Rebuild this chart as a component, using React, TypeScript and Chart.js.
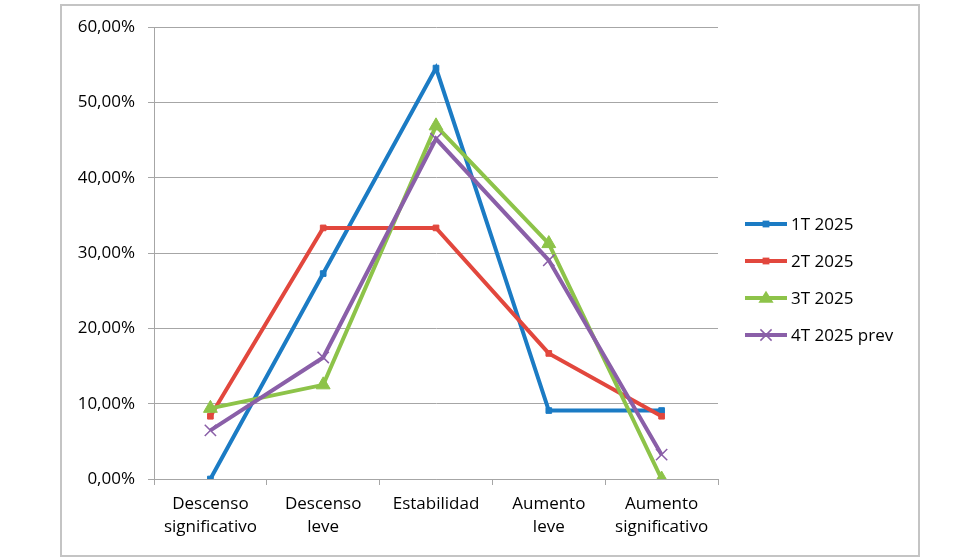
import { useRef, useEffect } from "react";
import { Chart, registerables } from "chart.js";
Chart.register(...registerables);

const categories = [
    ["Descenso", "significativo"],
    ["Descenso", "leve"],
    "Estabilidad",
    ["Aumento", "leve"],
    ["Aumento", "significativo"],
];
const seriesLabels = ["1T 2025", "2T 2025", "3T 2025", "4T 2025 prev"];
const t1 = [0, 0.2727, 0.5455, 0.0909, 0.0909];
const t2 = [0.0833, 0.3333, 0.3333, 0.1667, 0.0833];
const t3 = [0.0938, 0.125, 0.4688, 0.3125, 0];
const t4 = [0.0645, 0.1613, 0.4516, 0.2903, 0.0323];
const yTicks = [0, 0.1, 0.2, 0.3, 0.4, 0.5, 0.6];

const FONT = "'Open Sans', sans-serif";

const formatPct = (v: number) => (v * 100).toFixed(2).replace(".", ",") + "%";

// small marker painter for the legend
const drawMarker = (ctx: CanvasRenderingContext2D, style: string, r: number, x: number, y: number) => {
    ctx.beginPath();
    if (style === "rect") {
        ctx.rect(x - r * 0.85, y - r * 0.85, r * 1.7, r * 1.7);
        ctx.fill();
    } else if (style === "triangle") {
        ctx.moveTo(x, y - r * 0.9);
        ctx.lineTo(x + r * 0.95, y + r * 0.6);
        ctx.lineTo(x - r * 0.95, y + r * 0.6);
        ctx.closePath();
        ctx.fill();
    } else {
        const d = r * 0.7;
        ctx.moveTo(x - d, y - d);
        ctx.lineTo(x + d, y + d);
        ctx.moveTo(x + d, y - d);
        ctx.lineTo(x - d, y + d);
        ctx.stroke();
    }
};

const ChartBox = () => {
    const chartContainer = useRef<HTMLCanvasElement>(null);

    useEffect(() => {
        if (!chartContainer.current) return;
        const colors = ["#1b7bc4", "#e2473d", "#8dc349", "#8a5fa8"];
        const styles: any[] = [
            { pointStyle: "rect", pointRadius: 4, pointBorderWidth: 1 },
            { pointStyle: "rect", pointRadius: 4, pointBorderWidth: 1 },
            { pointStyle: "triangle", pointRadius: 8, pointBorderWidth: 1 },
            { pointStyle: "crossRot", pointRadius: 8, pointBorderWidth: 1.5 },
        ];
        const values = [t1, t2, t3, t4];

        const chart = new Chart(chartContainer.current, {
            type: "line",
            data: {
                labels: categories,
                datasets: values.map((v, i) => ({
                    label: seriesLabels[i],
                    data: v,
                    borderColor: colors[i],
                    backgroundColor: colors[i],
                    pointBackgroundColor: colors[i],
                    pointBorderColor: colors[i],
                    borderWidth: 4,
                    tension: 0,
                    order: values.length - i, // later series on top, like the spreadsheet
                    ...styles[i],
                })),
            },
            options: {
                animation: false,
                responsive: false,
                layout: { padding: { left: 0, top: 27, right: 262, bottom: 0 } },
                scales: {
                    x: {
                        offset: true,
                        afterFit: (scale: any) => {
                            scale.height = 81;
                        },
                        grid: {
                            offset: true,
                            drawOnChartArea: false,
                            drawTicks: true,
                            tickLength: 6,
                            color: "#a6a6a6",
                        },
                        border: { color: "#a6a6a6", width: 1 },
                        ticks: {
                            color: "#000",
                            font: { family: FONT, size: 17, lineHeight: 1.35 },
                            padding: 8,
                            maxRotation: 0,
                            autoSkip: false,
                        },
                    },
                    y: {
                        min: 0,
                        max: 0.6,
                        afterFit: (scale: any) => {
                            scale.width = 154;
                        },
                        afterBuildTicks: (scale: any) => {
                            scale.ticks = yTicks.map((v) => ({ value: v }));
                        },
                        grid: {
                            color: "#a6a6a6",
                            lineWidth: 1,
                            drawTicks: true,
                            tickLength: 6,
                        },
                        border: { color: "#a6a6a6", width: 1 },
                        ticks: {
                            color: "#000",
                            font: { family: FONT, size: 17 },
                            padding: 13,
                            callback: (v: any) => formatPct(Number(v)),
                        },
                    },
                },
                plugins: {
                    legend: { display: false },
                    tooltip: { enabled: false },
                },
            },
            plugins: [
                {
                    id: "sideLegend",
                    afterDraw: (c: any) => {
                        const ctx = c.ctx;
                        const x0 = c.chartArea.right + 27;
                        const rowGap = 37;
                        const yStart = 224;
                        ctx.save();
                        ctx.font = `17px ${FONT}`;
                        ctx.textBaseline = "middle";
                        ctx.textAlign = "left";
                        c.data.datasets.forEach((ds: any, i: number) => {
                            const y = yStart + i * rowGap;
                            ctx.strokeStyle = ds.borderColor;
                            ctx.lineWidth = 4;
                            ctx.beginPath();
                            ctx.moveTo(x0, y);
                            ctx.lineTo(x0 + 42, y);
                            ctx.stroke();
                            ctx.fillStyle = ds.pointBackgroundColor;
                            ctx.strokeStyle = ds.pointBorderColor;
                            ctx.lineWidth = ds.pointBorderWidth;
                            drawMarker(ctx, ds.pointStyle, ds.pointRadius, x0 + 21, y);
                            ctx.fillStyle = "#000";
                            ctx.fillText(ds.label, x0 + 46, y + 1);
                        });
                        ctx.restore();
                    },
                },
            ],
        });

        return () => {
            chart.destroy();
        };
    }, []);

    return (
        <div style={{ position: "absolute", left: 0, top: 0, width: 980, height: 560, background: "#fff" }}>
            <div
                style={{
                    position: "absolute",
                    left: 60,
                    top: 4,
                    width: 860,
                    height: 553,
                    boxSizing: "border-box",
                    border: "2px solid #c4c4c4",
                }}
            />
            <canvas ref={chartContainer} width={980} height={560} style={{ position: "absolute", left: 0, top: 0 }} />
        </div>
    );
};

export default function App() {
    return <ChartBox />;
}
